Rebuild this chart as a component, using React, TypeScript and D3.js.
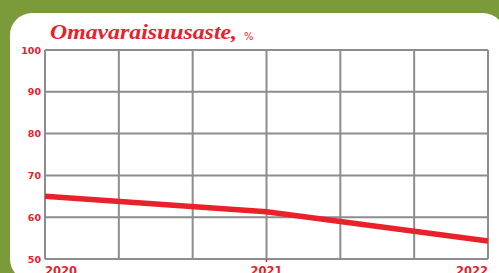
import React from 'react';
import * as d3 from 'd3';

// Omavaraisuusaste (equity ratio), %
const years = [2020, 2021, 2022];
const values = [65, 61.3, 54.3];
const yTicks = [50, 60, 70, 80, 90, 100];
const xLabels = ['2020', '2021', '2022'];
const gridSteps = 6; // vertical grid lines every 4 months

const W = 499;
const H = 273;
const plot = { left: 45, right: 488, top: 50, bottom: 259 };

const App: React.FC = () => {
  const x = d3.scaleLinear().domain([2020, 2022]).range([plot.left, plot.right]);
  const y = d3.scaleLinear().domain([50, 100]).range([plot.bottom, plot.top]);

  const vGrid = d3.range(gridSteps + 1).map(i => 2020 + (i * 2) / gridSteps);

  const line = d3.line<number>()
    .x((_, i) => x(years[i]))
    .y(d => y(d));

  const red = '#e8212b';
  const grey = '#8d8d8f';

  return (
    <svg width={W} height={H} style={{ position: 'absolute', left: 0, top: 0 }}>
      <rect width={W} height={H} fill="#7b9b3b" />
      <rect x={10} y={13} width={495} height={268} rx={22} ry={22} fill="#ffffff" />

      <text
        x={50}
        y={39}
        fill={red}
        fontFamily="'Liberation Serif', serif"
        fontStyle="italic"
        fontWeight="bold"
        fontSize={22}
        textLength={187}
        lengthAdjust="spacingAndGlyphs"
      >
        Omavaraisuusaste,
      </text>
      <text x={244} y={40} fill={red} fontFamily="'DejaVu Sans', sans-serif" fontSize={10}>
        %
      </text>

      {/* grid */}
      {yTicks.map(t => (
        <line key={'h' + t} x1={plot.left} x2={plot.right} y1={y(t)} y2={y(t)} stroke={grey} strokeWidth={2} />
      ))}
      {vGrid.map((v, i) => (
        <line key={'v' + i} x1={x(v)} x2={x(v)} y1={plot.top} y2={plot.bottom} stroke={grey} strokeWidth={2} />
      ))}

      {/* y labels */}
      {yTicks.map(t => (
        <text
          key={'yl' + t}
          x={41}
          y={y(t) + 3.5}
          textAnchor="end"
          fill={red}
          fontFamily="'DejaVu Sans', sans-serif"
          fontWeight="bold"
          fontSize={9.5}
        >
          {t}
        </text>
      ))}

      {/* x labels */}
      {years.map((yr, i) => (
        <text
          key={'xl' + yr}
          x={x(yr)}
          y={275}
          textAnchor={i === 0 ? 'start' : i === years.length - 1 ? 'end' : 'middle'}
          fill={red}
          fontFamily="'DejaVu Sans', sans-serif"
          fontWeight="bold"
          fontSize={11.5}
        >
          {xLabels[i]}
        </text>
      ))}
      <line x1={x(2021)} x2={x(2021)} y1={plot.bottom} y2={plot.bottom + 3} stroke={red} strokeWidth={1.5} />

      {/* series */}
      <path d={line(values) ?? ''} fill="none" stroke={red} strokeWidth={5.5} />
    </svg>
  );
};

export default App;
